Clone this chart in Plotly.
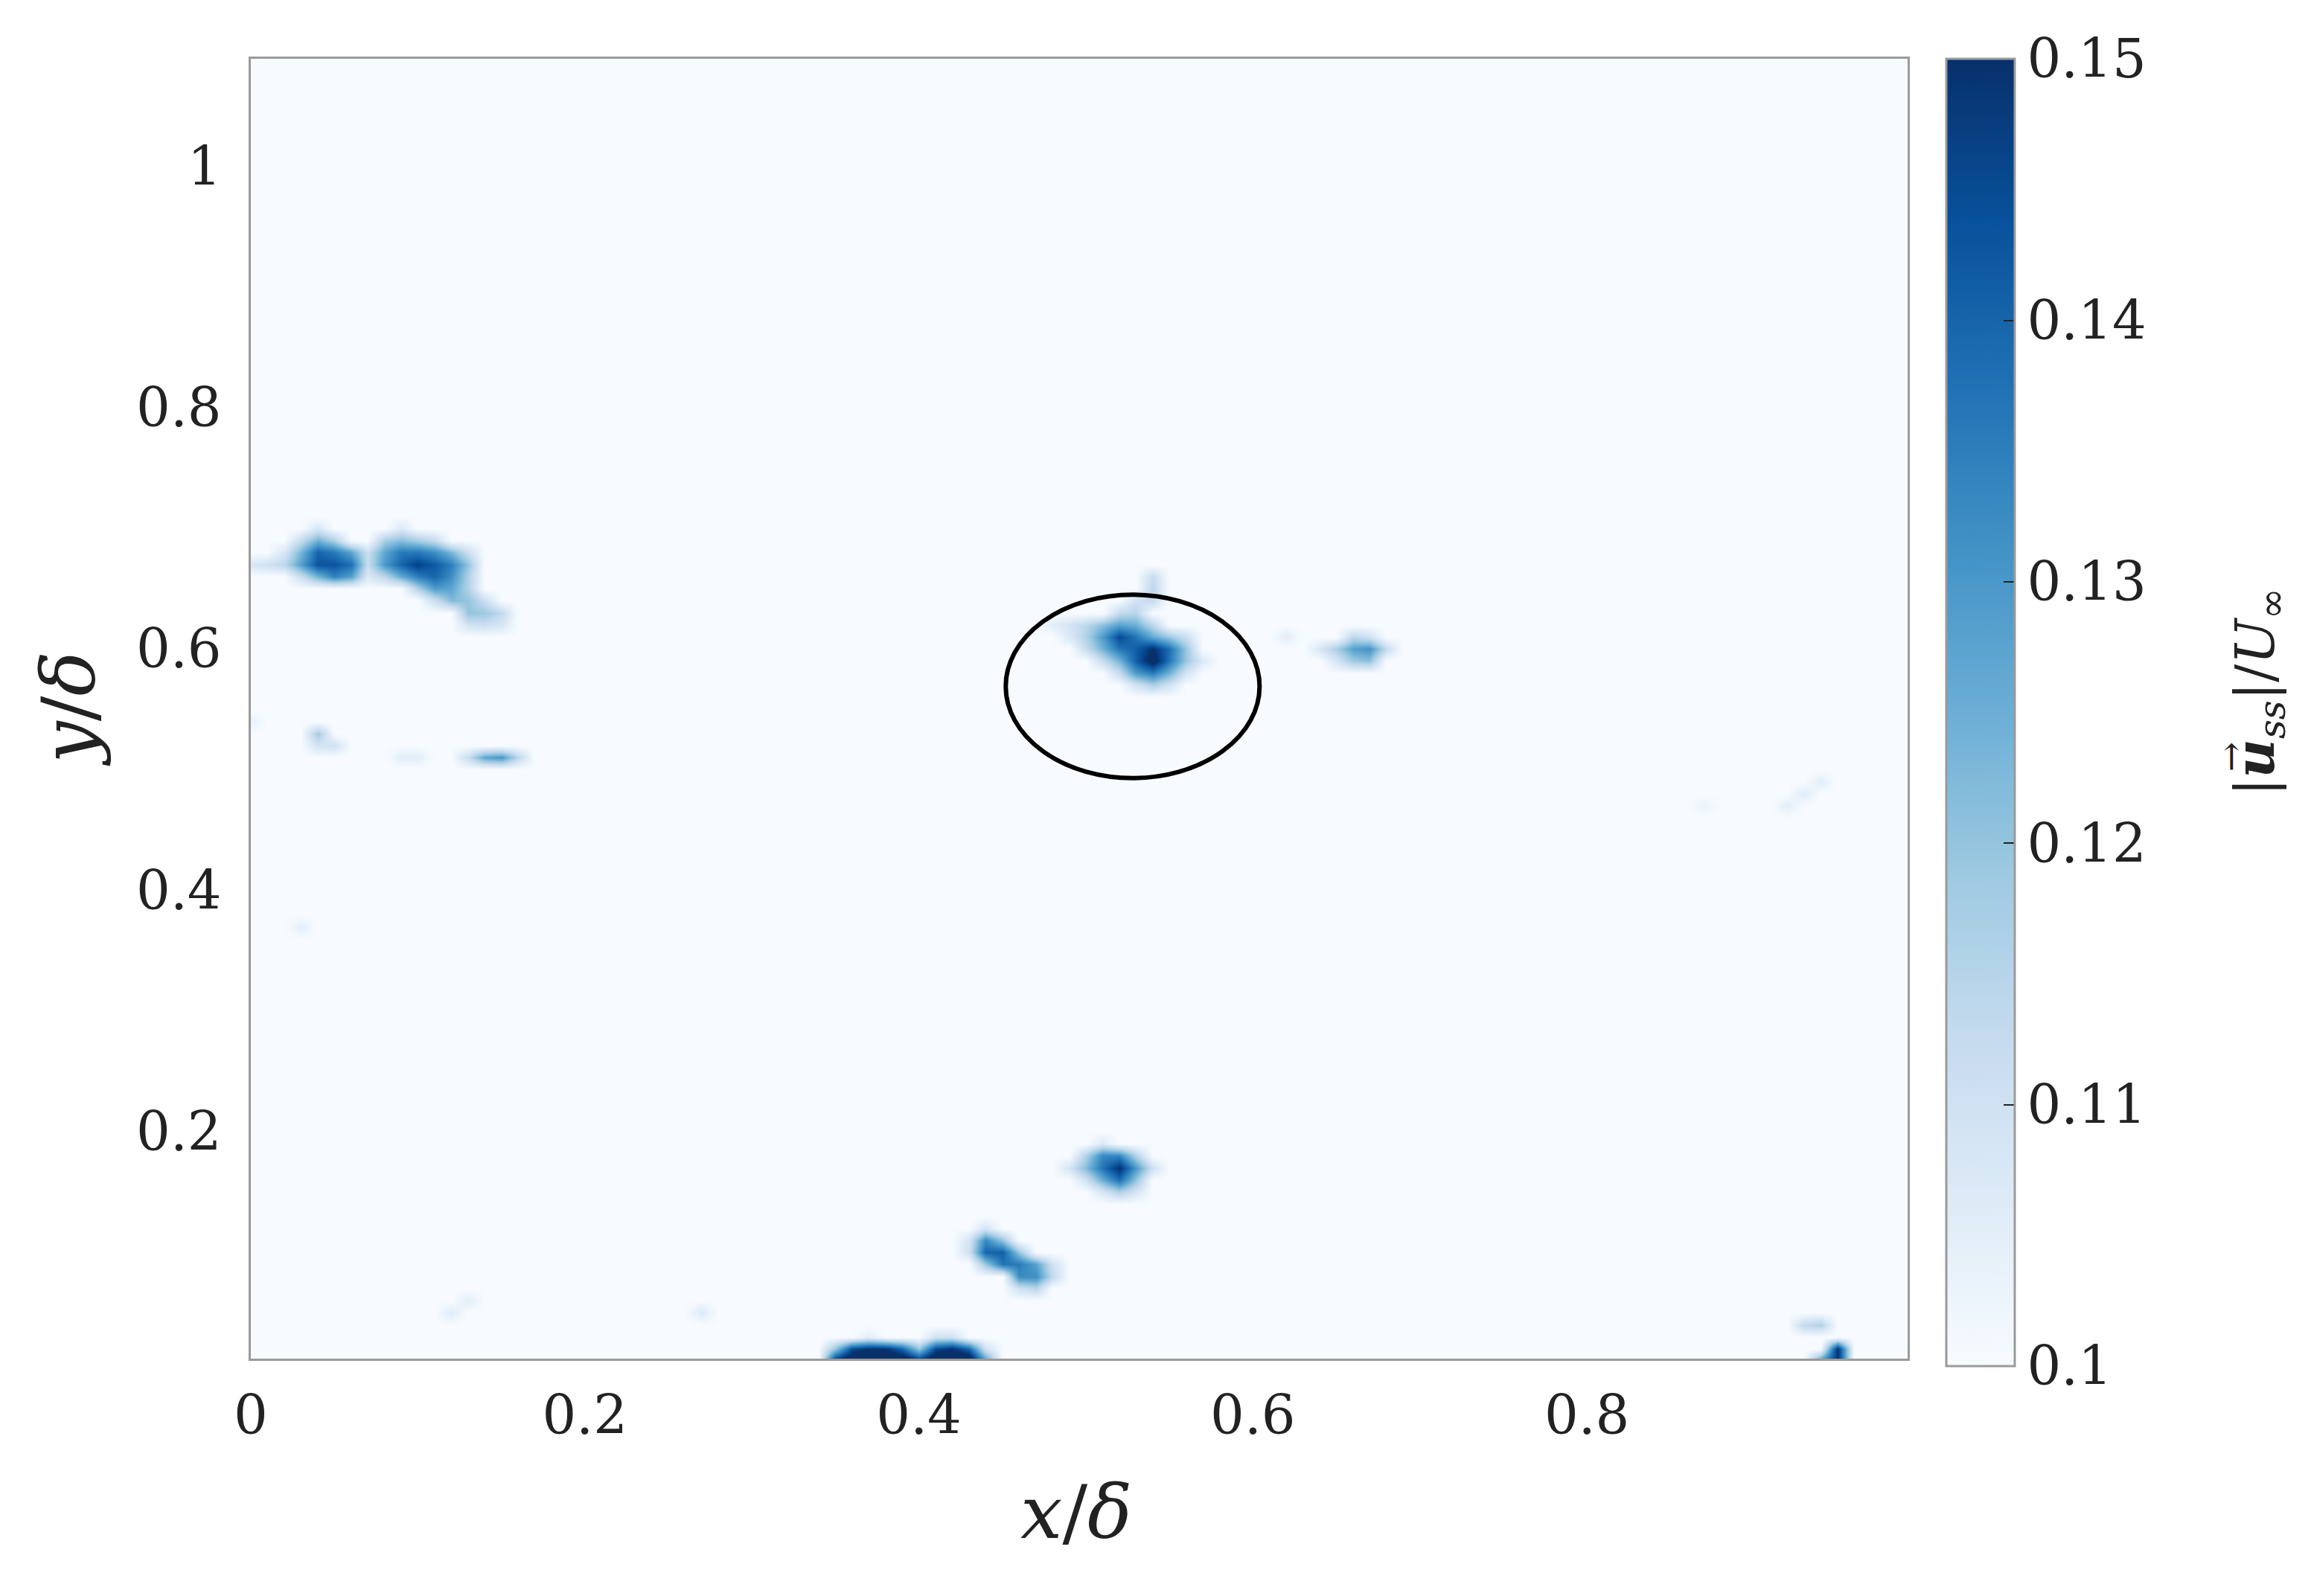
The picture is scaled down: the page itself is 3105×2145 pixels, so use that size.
import plotly.graph_objects as go

# ---------------- data ----------------
# field of |u_ss|/U_inf on a coarse measurement grid; cells not listed are below 0.1
grid_dx = 0.01
grid_dy = 0.01
grid_nx = 100          # x = 0.00 .. 0.99
grid_ny = 109          # y = 0.01 .. 1.09
background_level = 0.1

# each entry: (x/delta, y/delta, value)
upper_left_cells = [
    (0.04, 0.70, 0.108), (0.09, 0.70, 0.107),
    (0.03, 0.69, 0.112), (0.04, 0.69, 0.124), (0.05, 0.69, 0.116), (0.08, 0.69, 0.117),
    (0.09, 0.69, 0.121), (0.10, 0.69, 0.117), (0.11, 0.69, 0.112),
    (0.02, 0.68, 0.108), (0.03, 0.68, 0.123), (0.04, 0.68, 0.140), (0.05, 0.68, 0.136),
    (0.06, 0.68, 0.127), (0.07, 0.68, 0.111), (0.08, 0.68, 0.127), (0.09, 0.68, 0.136),
    (0.10, 0.68, 0.136), (0.11, 0.68, 0.132), (0.12, 0.68, 0.123), (0.13, 0.68, 0.111),
    (0.00, 0.67, 0.108), (0.01, 0.67, 0.110), (0.02, 0.67, 0.114), (0.03, 0.67, 0.128),
    (0.04, 0.67, 0.143), (0.05, 0.67, 0.143), (0.06, 0.67, 0.138), (0.07, 0.67, 0.112),
    (0.08, 0.67, 0.130), (0.09, 0.67, 0.140), (0.10, 0.67, 0.147), (0.11, 0.67, 0.142),
    (0.12, 0.67, 0.135), (0.13, 0.67, 0.120),
    (0.03, 0.66, 0.111), (0.04, 0.66, 0.124), (0.05, 0.66, 0.134), (0.06, 0.66, 0.128),
    (0.07, 0.66, 0.107), (0.08, 0.66, 0.114), (0.09, 0.66, 0.126), (0.10, 0.66, 0.135),
    (0.11, 0.66, 0.140), (0.12, 0.66, 0.132), (0.13, 0.66, 0.116),
    (0.10, 0.65, 0.116), (0.11, 0.65, 0.129), (0.12, 0.65, 0.127), (0.13, 0.65, 0.116),
    (0.11, 0.64, 0.111), (0.12, 0.64, 0.122), (0.13, 0.64, 0.120), (0.14, 0.64, 0.111),
    (0.13, 0.63, 0.120), (0.14, 0.63, 0.119), (0.15, 0.63, 0.113),
    (0.13, 0.62, 0.109), (0.14, 0.62, 0.111), (0.15, 0.62, 0.108),
]

mid_left_cells = [
    (0.04, 0.53, 0.118), (0.05, 0.52, 0.110), (0.04, 0.52, 0.109), (0.00, 0.54, 0.104),
    (0.09, 0.51, 0.105), (0.10, 0.51, 0.105), (0.13, 0.51, 0.112), (0.14, 0.51, 0.127),
    (0.15, 0.51, 0.130), (0.16, 0.51, 0.114),
    (0.03, 0.37, 0.105), (0.12, 0.05, 0.106), (0.13, 0.06, 0.105), (0.27, 0.05, 0.107),
]

wall_cells = [
    (0.35, 0.01, 0.150), (0.36, 0.01, 0.160), (0.37, 0.01, 0.160), (0.38, 0.01, 0.160),
    (0.39, 0.01, 0.160), (0.40, 0.01, 0.150), (0.41, 0.01, 0.160), (0.42, 0.01, 0.160),
    (0.43, 0.01, 0.160), (0.44, 0.01, 0.130),
    (0.35, 0.02, 0.120), (0.36, 0.02, 0.145), (0.37, 0.02, 0.150), (0.38, 0.02, 0.150),
    (0.39, 0.02, 0.140), (0.40, 0.02, 0.120), (0.41, 0.02, 0.145), (0.42, 0.02, 0.150),
    (0.43, 0.02, 0.140), (0.44, 0.02, 0.110),
    (0.37, 0.03, 0.105), (0.41, 0.03, 0.110), (0.42, 0.03, 0.110),
]

pair_cells = [
    (0.44, 0.12, 0.109), (0.43, 0.11, 0.109), (0.44, 0.11, 0.133), (0.45, 0.11, 0.120),
    (0.43, 0.10, 0.110), (0.44, 0.10, 0.140), (0.45, 0.10, 0.141), (0.46, 0.10, 0.120),
    (0.44, 0.09, 0.119), (0.45, 0.09, 0.137), (0.46, 0.09, 0.136), (0.47, 0.09, 0.128),
    (0.48, 0.09, 0.110), (0.46, 0.08, 0.132), (0.47, 0.08, 0.132), (0.48, 0.08, 0.113),
    (0.46, 0.07, 0.110), (0.47, 0.07, 0.114),
]

low_cells = [
    (0.51, 0.19, 0.107), (0.50, 0.18, 0.116), (0.51, 0.18, 0.133), (0.52, 0.18, 0.133),
    (0.53, 0.18, 0.116),
    (0.49, 0.17, 0.109), (0.50, 0.17, 0.122), (0.51, 0.17, 0.137), (0.52, 0.17, 0.150),
    (0.53, 0.17, 0.130), (0.54, 0.17, 0.110),
    (0.50, 0.16, 0.110), (0.51, 0.16, 0.125), (0.52, 0.16, 0.138), (0.53, 0.16, 0.120),
    (0.51, 0.15, 0.108), (0.52, 0.15, 0.116), (0.53, 0.15, 0.109),
]

circled_cells = [
    (0.54, 0.66, 0.112), (0.54, 0.65, 0.114), (0.53, 0.64, 0.110), (0.54, 0.64, 0.112),
    (0.52, 0.63, 0.113), (0.53, 0.63, 0.115),
    (0.48, 0.62, 0.105), (0.49, 0.62, 0.109), (0.50, 0.62, 0.114), (0.51, 0.62, 0.121),
    (0.52, 0.62, 0.128), (0.53, 0.62, 0.125), (0.54, 0.62, 0.114),
    (0.49, 0.61, 0.107), (0.50, 0.61, 0.116), (0.51, 0.61, 0.129), (0.52, 0.61, 0.145),
    (0.53, 0.61, 0.137), (0.54, 0.61, 0.126), (0.55, 0.61, 0.119), (0.56, 0.61, 0.111),
    (0.50, 0.60, 0.112), (0.51, 0.60, 0.124), (0.52, 0.60, 0.137), (0.53, 0.60, 0.141),
    (0.54, 0.60, 0.150), (0.55, 0.60, 0.138), (0.56, 0.60, 0.119),
    (0.51, 0.59, 0.112), (0.52, 0.59, 0.124), (0.53, 0.59, 0.141), (0.54, 0.59, 0.155),
    (0.55, 0.59, 0.137), (0.56, 0.59, 0.119), (0.57, 0.59, 0.107),
    (0.52, 0.58, 0.112), (0.53, 0.58, 0.129), (0.54, 0.58, 0.135), (0.55, 0.58, 0.124),
    (0.56, 0.58, 0.109),
    (0.53, 0.57, 0.109), (0.54, 0.57, 0.116), (0.55, 0.57, 0.109),
]

right_cells = [
    (0.62, 0.61, 0.105), (0.66, 0.61, 0.114), (0.67, 0.61, 0.110),
    (0.64, 0.60, 0.108), (0.65, 0.60, 0.117), (0.66, 0.60, 0.128), (0.67, 0.60, 0.131),
    (0.68, 0.60, 0.112),
    (0.65, 0.59, 0.109), (0.66, 0.59, 0.119), (0.67, 0.59, 0.121),
    (0.87, 0.47, 0.103), (0.92, 0.47, 0.105), (0.93, 0.48, 0.106), (0.94, 0.49, 0.105),
    (0.93, 0.04, 0.113), (0.94, 0.04, 0.116),
    (0.95, 0.02, 0.150), (0.95, 0.01, 0.150), (0.94, 0.01, 0.130),
]

# highlighted region (circle) : centre and radius in x/delta, y/delta
circle_cx = 0.528
circle_cy = 0.569
circle_r = 0.076

x_ticks = [0, 0.2, 0.4, 0.6, 0.8]
x_ticklabels = ["0", "0.2", "0.4", "0.6", "0.8"]
y_ticks = [0.2, 0.4, 0.6, 0.8, 1.0]
y_ticklabels = ["0.2", "0.4", "0.6", "0.8", "1"]
c_ticks = [0.1, 0.11, 0.12, 0.13, 0.14, 0.15]
c_ticklabels = ["0.1", "0.11", "0.12", "0.13", "0.14", "0.15"]
c_min, c_max = 0.1, 0.15

blues = ["#f7fbff", "#deebf7", "#c6dbef", "#9ecae1", "#6baed6",
         "#4292c6", "#2171b5", "#08519c", "#08306b"]

# ---------------- build the field ----------------
gx = [round(i * grid_dx, 4) for i in range(grid_nx)]
gy = [round(0.01 + j * grid_dy, 4) for j in range(grid_ny)]
z = [[background_level for _ in gx] for _ in gy]
for cells in [upper_left_cells, mid_left_cells, wall_cells, pair_cells,
              low_cells, circled_cells, right_cells]:
    for xv, yv, vv in cells:
        i = int(round(xv / grid_dx))
        j = int(round((yv - 0.01) / grid_dy))
        z[j][i] = vv

colorscale = [[k / (len(blues) - 1), c] for k, c in enumerate(blues)]

FONT = "DejaVu Serif"
INK = "#222222"

fig = go.Figure()
fig.add_trace(go.Heatmap(
    x=gx, y=gy, z=z, zmin=c_min, zmax=c_max, zsmooth="best",
    colorscale=colorscale, hoverinfo="skip",
    colorbar=dict(
        x=1.0235, xanchor="left", xpad=0, y=0.497, yanchor="middle", ypad=0,
        len=1.006, lenmode="fraction", thickness=92,
        outlinecolor="#9a9a9a", outlinewidth=3,
        tickmode="array", tickvals=c_ticks, ticktext=c_ticklabels,
        ticks="inside", ticklen=16, tickwidth=2, tickcolor=INK,
        tickfont=dict(family=FONT, size=72, color=INK),
    ),
))

fig.add_shape(type="circle", xref="x", yref="y",
              x0=circle_cx - circle_r, x1=circle_cx + circle_r,
              y0=circle_cy - circle_r, y1=circle_cy + circle_r,
              line=dict(color="black", width=6))

fig.update_xaxes(range=[0, 0.992], tickmode="array", tickvals=x_ticks, ticktext=x_ticklabels,
                 showgrid=False, zeroline=False, showline=True, mirror=True,
                 linecolor="#9a9a9a", linewidth=3, ticks="",
                 ticklabelstandoff=12,
                 tickfont=dict(family=FONT, size=72, color=INK))
fig.update_yaxes(range=[0.012, 1.089], tickmode="array", tickvals=y_ticks, ticktext=y_ticklabels,
                 showgrid=False, zeroline=False, showline=True, mirror=True,
                 linecolor="#9a9a9a", linewidth=3, ticks="",
                 ticklabelstandoff=22,
                 tickfont=dict(family=FONT, size=72, color=INK))

fig.add_annotation(text="<i>x</i>/<i>δ</i>", xref="paper", yref="paper",
                   x=0.498, y=-0.118, showarrow=False, xanchor="center", yanchor="middle",
                   font=dict(family=FONT, size=100, color=INK))
fig.add_annotation(text="<i>y</i>/<i>δ</i>", xref="paper", yref="paper",
                   x=-0.11, y=0.50, showarrow=False, xanchor="center", yanchor="middle",
                   textangle=-90, font=dict(family=FONT, size=100, color=INK))
# colour-bar label |u_ss|/U_inf (vector arrow drawn as its own small text)
fig.add_annotation(text="|<b><i>u</i></b><sub><i>ss</i></sub>|/<i>U</i><sub>∞</sub>",
                   xref="paper", yref="paper",
                   x=1.212, y=0.513, showarrow=False, xanchor="center", yanchor="middle",
                   textangle=-90, font=dict(family=FONT, size=72, color=INK))
fig.add_annotation(text="→", xref="paper", yref="paper",
                   x=1.195, y=0.463, showarrow=False, xanchor="center", yanchor="middle",
                   textangle=-90, font=dict(family=FONT, size=48, color=INK))

fig.update_layout(
    width=3097, height=2137,
    margin=dict(l=329, r=542, t=71, b=319),
    paper_bgcolor="white", plot_bgcolor="#f7fbff",
    showlegend=False,
)

fig.write_html("out.html")
